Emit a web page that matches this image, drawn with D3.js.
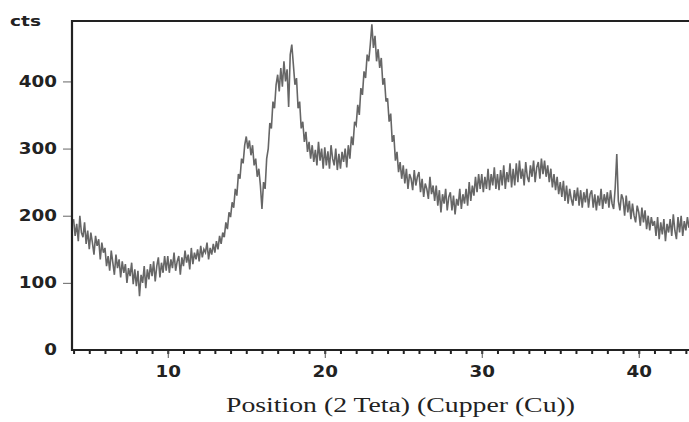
<!DOCTYPE html>
<html>
<head>
<meta charset="utf-8">
<script src="https://cdn.jsdelivr.net/npm/d3@7"></script>
<style>
  body { margin: 0; background: #fff; }
  .tick text { font-family: "DejaVu Sans", sans-serif; font-weight: bold; }
</style>
</head>
<body>
<script>
// scan settings, degrees 2theta
startAngle = 4.0
stepAngle = 0.1

// counts, one row per degree
counts = [
  195, 170, 188, 162, 200, 175, 168, 190, 158, 178,   // 4
  150, 175, 160, 142, 170, 155, 165, 135, 160, 145,   // 5
  152, 125, 140, 118, 148, 130, 112, 142, 122, 135,   // 6
  108, 132, 115, 128, 100, 122, 110, 130, 98, 120,    // 7
  95, 118, 80, 112, 100, 125, 92, 120, 105, 128,      // 8
  110, 132, 102, 125, 138, 108, 130, 115, 140, 118,   // 9
  140, 115, 135, 122, 145, 118, 132, 140, 112, 138,   // 10
  125, 148, 130, 142, 120, 152, 128, 145, 135, 150,   // 11
  132, 155, 138, 150, 145, 160, 135, 152, 142, 158,   // 12
  145, 162, 150, 170, 158, 175, 168, 190, 180, 205,   // 13
  198, 220, 212, 240, 230, 262, 255, 285, 278, 305,   // 14
  318, 300, 312, 290, 305, 275, 285, 258, 270, 245,   // 15
  210, 250, 240, 285, 300, 338, 330, 370, 360, 395,   // 16
  410, 385, 420, 392, 430, 400, 418, 362, 440, 455,   // 17
  425, 395, 405, 360, 370, 330, 340, 310, 325, 295,   // 18
  310, 285, 305, 280, 298, 275, 310, 282, 300, 270,   // 19
  302, 275, 296, 270, 305, 285, 275, 300, 268, 292,   // 20
  270, 295, 280, 300, 272, 305, 285, 318, 305, 340,   // 21
  335, 365, 350, 390, 380, 415, 405, 440, 430, 455,   // 22
  485, 450, 468, 430, 448, 420, 435, 395, 405, 370,   // 23
  375, 340, 352, 310, 320, 282, 295, 265, 280, 255,   // 24
  275, 248, 270, 240, 262, 255, 238, 268, 245, 258,   // 25
  265, 235, 255, 228, 248, 240, 225, 258, 232, 245,   // 26
  222, 245, 215, 238, 205, 232, 218, 240, 208, 228,   // 27
  235, 208, 230, 202, 225, 215, 240, 210, 232, 218,   // 28
  240, 215, 250, 222, 245, 230, 258, 235, 262, 240,   // 29
  262, 235, 258, 240, 270, 238, 262, 245, 272, 240,   // 30
  262, 238, 268, 245, 275, 240, 265, 250, 278, 242,   // 31
  270, 245, 278, 250, 282, 255, 270, 245, 280, 258,   // 32
  250, 275, 258, 282, 250, 272, 280, 255, 285, 262,   // 33
  282, 258, 275, 250, 270, 242, 262, 238, 258, 232,   // 34
  250, 228, 252, 222, 245, 218, 240, 225, 215, 238,   // 35
  222, 242, 215, 238, 212, 235, 220, 240, 212, 232,   // 36
  238, 212, 232, 208, 230, 215, 240, 210, 232, 218,   // 37
  235, 212, 238, 218, 210, 242, 292, 222, 208, 232,   // 38
  225, 200, 230, 205, 222, 195, 218, 200, 190, 215,   // 39
  205, 185, 212, 190, 208, 180, 200, 178, 198, 185,   // 40
  192, 170, 198, 165, 190, 172, 195, 162, 188, 175,   // 41
  195, 170, 202, 178, 165, 198, 175, 200, 170, 192,   // 42
  178, 198, 182                                        // 43
]

xTicks = [10, 20, 30, 40]
yTicks = [0, 100, 200, 300, 400]
yLabel = "cts"
xLabel = "Position (2 Teta) (Cupper (Cu))"

w = 689
h = 422
plotLeft = 72
plotTop = 21
plotBottom = 350
stretch = 1.22   // the reference glyphs are drawn wide

svg = d3.select("body").append("svg")
        .attr("width", w)
        .attr("height", h)

x = d3.scaleLinear().domain([3.9, 43.2]).range([plotLeft, w])
y = d3.scaleLinear().domain([0, 490]).range([plotBottom, plotTop])

data = counts.map(function(c, i) {
        return { a: startAngle + i * stepAngle, c: c }
})

svg.append("clipPath").attr("id", "plot")
        .append("rect")
        .attr("x", plotLeft).attr("y", plotTop)
        .attr("width", w - plotLeft).attr("height", plotBottom - plotTop)

line = d3.line()
        .x(function(d) { return x(d.a) })
        .y(function(d) { return y(d.c) })

svg.append("path")
        .datum(data)
        .attr("clip-path", "url(#plot)")
        .attr("fill", "none")
        .attr("stroke", "#666")
        .attr("stroke-width", 1.6)
        .attr("d", line)

// minor ticks every degree
minor = d3.range(4, 44)
xMinor = svg.append("g")
        .attr("transform", "translate(0," + plotBottom + ")")
        .call(d3.axisBottom(x).tickValues(minor).tickSize(4).tickFormat(""))
xMinor.select(".domain").remove()
xMinor.selectAll("line").attr("stroke", "#222").attr("stroke-width", 2)

xAxis = svg.append("g")
        .attr("transform", "translate(0," + plotBottom + ")")
        .call(d3.axisBottom(x).tickValues(xTicks).tickSize(8).tickPadding(8).tickFormat(d3.format("d")))
xAxis.select(".domain").remove()
xAxis.selectAll("line").attr("stroke", "#555").attr("stroke-width", 1)
xAxis.selectAll("text")
        .attr("font-size", 15)
        .attr("fill", "#222")
        .attr("transform", "scale(" + stretch + ",1)")

yAxis = svg.append("g")
        .attr("transform", "translate(" + plotLeft + ",0)")
        .call(d3.axisLeft(y).tickValues(yTicks).tickSize(9).tickPadding(6))
yAxis.select(".domain").remove()
yAxis.selectAll("line").attr("stroke", "#666").attr("stroke-width", 1)
yAxis.selectAll(".tick").filter(function(d) { return d == 0 }).select("line").remove()
yAxis.selectAll("text")
        .attr("font-size", 15)
        .attr("fill", "#222")
        .attr("x", -15 / stretch)
        .attr("transform", "scale(" + stretch + ",1)")

// frame: left, top, bottom
svg.append("path")
        .attr("fill", "none")
        .attr("stroke", "#222")
        .attr("stroke-width", 2.2)
        .attr("d", "M" + w + "," + plotTop + "H" + plotLeft + "V" + plotBottom + "H" + w)

svg.append("text")
        .attr("x", 10).attr("y", 26)
        .attr("font-family", "DejaVu Sans, sans-serif")
        .attr("font-weight", "bold")
        .attr("font-size", 14)
        .attr("fill", "#222")
        .attr("textLength", 31)
        .attr("lengthAdjust", "spacingAndGlyphs")
        .text(yLabel)

svg.append("text")
        .attr("x", 226).attr("y", 412)
        .attr("font-family", "Liberation Serif, serif")
        .attr("font-size", 20)
        .attr("fill", "#222")
        .attr("textLength", 349)
        .attr("lengthAdjust", "spacingAndGlyphs")
        .text(xLabel)
</script>
</body>
</html>
